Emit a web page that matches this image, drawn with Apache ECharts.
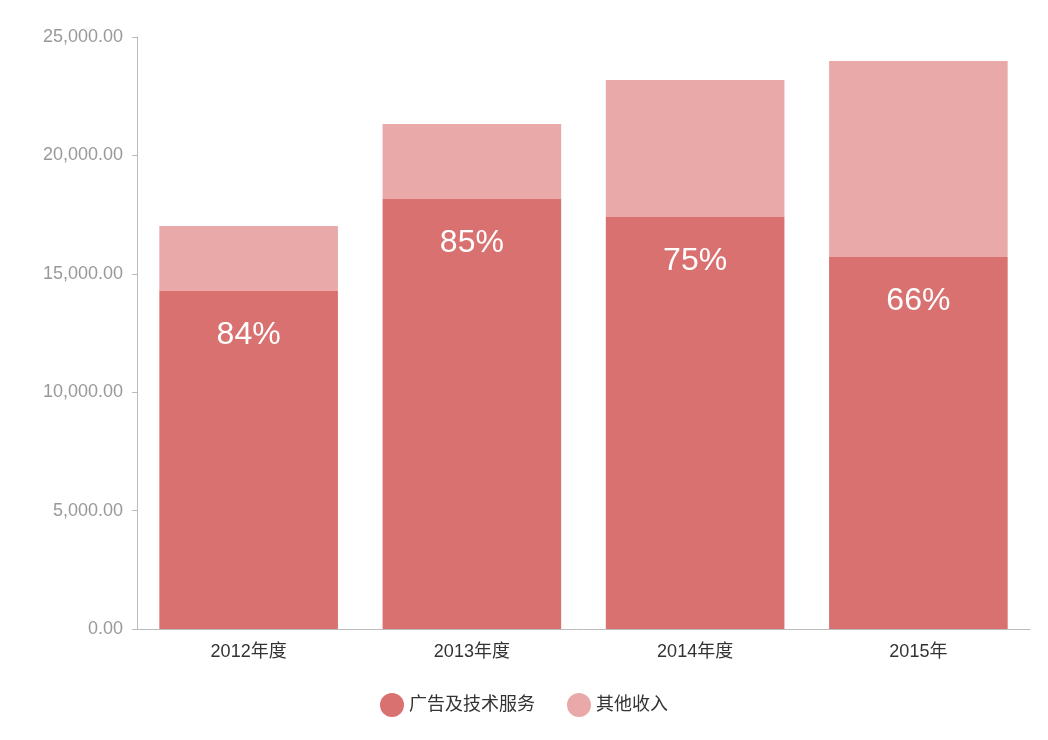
<!DOCTYPE html>
<html><head><meta charset="utf-8">
<script src="https://cdn.jsdelivr.net/npm/echarts@6/dist/echarts.min.js"></script>
<style>html,body{margin:0;padding:0;background:#fff}#c{width:1048px;height:740px}</style>
</head><body><div id="c"></div>
<script>
const categories = ['2012年度','2013年度','2014年度','2015年'];
const adRevenue = [14270, 18160, 17400, 15710];
const otherRevenue = [2750, 3170, 5780, 8280];
const shareLabels = ['84%','85%','75%','66%'];
const yTicks = {min:0, max:25000, interval:5000};

const chart = echarts.init(document.getElementById('c'));
chart.setOption({
  animation:false,
  textStyle:{fontFamily:'"Liberation Sans","Noto Sans CJK SC",sans-serif'},
  grid:{left:137, right:18, top:37, bottom:111},
  legend:{bottom:18, icon:'circle', itemWidth:24, itemHeight:24, itemGap:32,
    textStyle:{fontSize:18, color:'#333'}, data:['广告及技术服务','其他收入']},
  xAxis:{type:'category', data:categories,
    axisLine:{lineStyle:{color:'#bbb'}}, axisTick:{lineStyle:{color:'#bbb'}},
    axisLabel:{fontSize:18, color:'#333', margin:14}},
  yAxis:{type:'value', min:yTicks.min, max:yTicks.max, interval:yTicks.interval,
    axisLine:{show:true, lineStyle:{color:'#bbb'}}, axisTick:{show:true, lineStyle:{color:'#bbb'}},
    splitLine:{show:false},
    axisLabel:{fontSize:18, color:'#999', margin:14,
      formatter:v=>v.toLocaleString('en-US',{minimumFractionDigits:2, maximumFractionDigits:2})}},
  series:[
    {name:'广告及技术服务', type:'bar', stack:'t', barWidth:'80%', data:adRevenue,
     itemStyle:{color:'#d97170'},
     label:{show:true, position:'insideTop', distance:28, fontSize:32, color:'#fff',
       formatter:p=>shareLabels[p.dataIndex]}},
    {name:'其他收入', type:'bar', stack:'t', barWidth:'80%', data:otherRevenue,
     itemStyle:{color:'#e9a9a9'}}
  ]
});
</script></body></html>
